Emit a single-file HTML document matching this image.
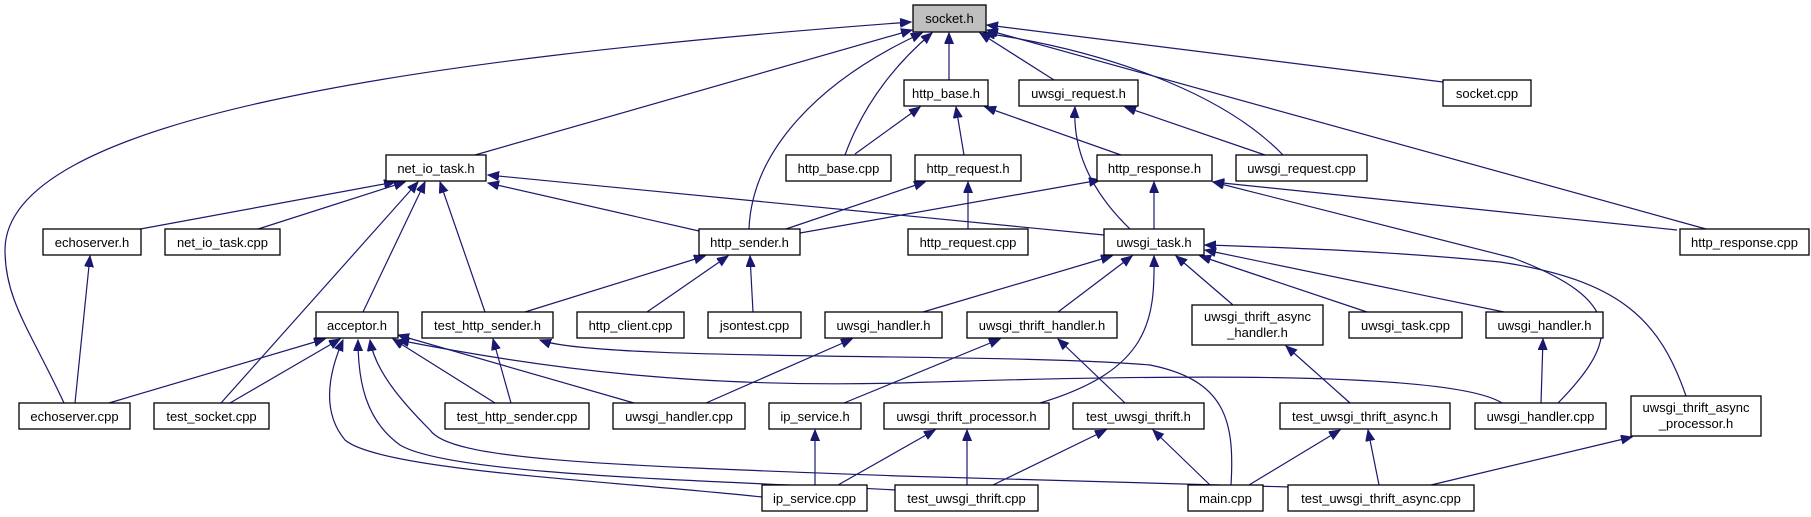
<!DOCTYPE html>
<html><head><meta charset="utf-8"><style>
html,body{margin:0;padding:0;background:#fff;}
svg{display:block;}
text{font-family:"Liberation Sans",sans-serif;font-size:13px;fill:#000;}
rect{fill:#fff;stroke:#000;stroke-width:1.3;}
.e{fill:none;stroke:#191970;stroke-width:1.2;marker-end:url(#a);}
</style></head><body>
<svg width="1811" height="517" viewBox="0 0 1811 517" xmlns="http://www.w3.org/2000/svg">
<defs><marker id="a" markerUnits="userSpaceOnUse" markerWidth="12" markerHeight="10" refX="11" refY="4.5" orient="auto"><path d="M0,0 L11,4.5 L0,9 z" fill="#191970" stroke="#191970"/></marker></defs>
<g>
<!-- socket.h -->
<path class="e" d="M64,403 C30,330 5,300 5,250 C5,120 400,60 911,22"/>
<path class="e" d="M475,155 L912,30"/>
<path class="e" d="M749,229 C752,150 820,80 922,33"/>
<path class="e" d="M845,155 C865,100 900,60 932,33"/>
<path class="e" d="M949,80 L949,33"/>
<path class="e" d="M1054,80 L980,33"/>
<path class="e" d="M1443,82 L987,25"/>
<path class="e" d="M1706,229 L987,30"/>
<path class="e" d="M1283,155 C1220,90 1100,50 984,33"/>
<!-- http_base.h -->
<path class="e" d="M855,154 L920,107"/>
<path class="e" d="M964,155 L956,107"/>
<path class="e" d="M1121,155 L985,107"/>
<!-- uwsgi_request.h -->
<path class="e" d="M1265,155 L1125,107"/>
<path class="e" d="M1130,229 C1100,200 1072,160 1075,107"/>
<!-- net_io_task.h -->
<path class="e" d="M135,230 L395,182"/>
<path class="e" d="M255,230 L405,182"/>
<path class="e" d="M221,403 L418,182"/>
<path class="e" d="M363,312 L425,182"/>
<path class="e" d="M485,312 L440,182"/>
<path class="e" d="M699,231 L488,183"/>
<path class="e" d="M1104,235 L488,175"/>
<!-- http_request.h -->
<path class="e" d="M783,230 L925,182"/>
<path class="e" d="M968,229 L968,182"/>
<!-- http_response.h -->
<path class="e" d="M800,233 L1100,180"/>
<path class="e" d="M1154,229 L1154,182"/>
<path class="e" d="M1677,230 L1213,182"/>
<path class="e" d="M1558,403 C1620,340 1625,300 1513,258 L1213,182"/>
<!-- http_sender.h -->
<path class="e" d="M525,312 L705,256"/>
<path class="e" d="M647,312 L728,256"/>
<path class="e" d="M753,312 L750,256"/>
<!-- uwsgi_task.h -->
<path class="e" d="M923,312 L1112,256"/>
<path class="e" d="M1058,312 L1132,256"/>
<path class="e" d="M1040,403 C1150,370 1155,320 1154,256"/>
<path class="e" d="M1233,305 L1176,256"/>
<path class="e" d="M1367,312 L1200,256"/>
<path class="e" d="M1504,312 L1205,250"/>
<path class="e" d="M1686,396 C1660,320 1620,280 1500,262 C1400,252 1300,248 1205,245"/>
<!-- echoserver.h -->
<path class="e" d="M75,403 L90,256"/>
<!-- acceptor.h -->
<path class="e" d="M109,403 L325,339"/>
<path class="e" d="M230,403 L340,339"/>
<path class="e" d="M495,403 L393,339"/>
<path class="e" d="M634,403 L398,335"/>
<path class="e" d="M1502,403 C1450,370 1150,375 900,383 C700,388 550,370 398,340"/>
<path class="e" d="M1290,487 L900,476 C600,465 450,460 430,430 C400,400 375,370 370,340"/>
<path class="e" d="M762,497 C600,480 380,470 345,440 C320,410 330,370 343,340"/>
<path class="e" d="M897,490 C700,480 450,475 400,445 C365,420 358,380 358,340"/>
<!-- test_http_sender.h -->
<path class="e" d="M511,403 L493,339"/>
<path class="e" d="M1231,485 C1235,420 1225,380 1150,365 C1000,352 600,362 540,340"/>
<!-- others -->
<path class="e" d="M706,403 L852,339"/>
<path class="e" d="M844,403 L1000,339"/>
<path class="e" d="M1125,403 L1058,339"/>
<path class="e" d="M1350,403 L1286,346"/>
<path class="e" d="M1541,403 L1543,339"/>
<path class="e" d="M815,485 L815,430"/>
<path class="e" d="M838,485 L935,430"/>
<path class="e" d="M967,485 L967,430"/>
<path class="e" d="M993,485 L1106,430"/>
<path class="e" d="M1210,485 L1153,430"/>
<path class="e" d="M1249,485 L1340,430"/>
<path class="e" d="M1379,485 L1368,430"/>
<path class="e" d="M1431,485 L1632,437"/>
</g>
<g text-anchor="middle">
<rect x="913" y="5" width="73" height="27" style="fill:#bfbfbf"/><text x="949.5" y="23">socket.h</text>
<rect x="904" y="80" width="84" height="26"/><text x="946" y="98">http_base.h</text>
<rect x="1019" y="80" width="119" height="26"/><text x="1078.5" y="98">uwsgi_request.h</text>
<rect x="1443" y="80" width="88" height="26"/><text x="1487" y="98">socket.cpp</text>
<rect x="386" y="155" width="100" height="26"/><text x="436" y="173">net_io_task.h</text>
<rect x="786" y="155" width="105" height="26"/><text x="838.5" y="173">http_base.cpp</text>
<rect x="915" y="155" width="106" height="26"/><text x="968" y="173">http_request.h</text>
<rect x="1097" y="155" width="115" height="26"/><text x="1154.5" y="173">http_response.h</text>
<rect x="1236" y="155" width="131" height="26"/><text x="1301.5" y="173">uwsgi_request.cpp</text>
<rect x="43" y="229" width="98" height="26"/><text x="92" y="247">echoserver.h</text>
<rect x="165" y="229" width="115" height="26"/><text x="222.5" y="247">net_io_task.cpp</text>
<rect x="699" y="229" width="101" height="26"/><text x="749.5" y="247">http_sender.h</text>
<rect x="908" y="229" width="120" height="26"/><text x="968" y="247">http_request.cpp</text>
<rect x="1104" y="229" width="100" height="26"/><text x="1154" y="247">uwsgi_task.h</text>
<rect x="1680" y="229" width="129" height="26"/><text x="1744.5" y="247">http_response.cpp</text>
<rect x="316" y="312" width="82" height="26"/><text x="357" y="330">acceptor.h</text>
<rect x="422" y="312" width="131" height="26"/><text x="487.5" y="330">test_http_sender.h</text>
<rect x="577" y="312" width="107" height="26"/><text x="630.5" y="330">http_client.cpp</text>
<rect x="708" y="312" width="93" height="26"/><text x="754.5" y="330">jsontest.cpp</text>
<rect x="825" y="312" width="117" height="26"/><text x="883.5" y="330">uwsgi_handler.h</text>
<rect x="967" y="312" width="150" height="26"/><text x="1042" y="330">uwsgi_thrift_handler.h</text>
<rect x="1192" y="305" width="131" height="40"/><text x="1257.5" y="321">uwsgi_thrift_async</text><text x="1257.5" y="337">_handler.h</text>
<rect x="1349" y="312" width="113" height="26"/><text x="1405.5" y="330">uwsgi_task.cpp</text>
<rect x="1486" y="312" width="117" height="26"/><text x="1544.5" y="330">uwsgi_handler.h</text>
<rect x="19" y="403" width="111" height="26"/><text x="74.5" y="421">echoserver.cpp</text>
<rect x="154" y="403" width="115" height="26"/><text x="211.5" y="421">test_socket.cpp</text>
<rect x="445" y="403" width="144" height="26"/><text x="517" y="421">test_http_sender.cpp</text>
<rect x="613" y="403" width="132" height="26"/><text x="679" y="421">uwsgi_handler.cpp</text>
<rect x="769" y="403" width="92" height="26"/><text x="815" y="421">ip_service.h</text>
<rect x="884" y="403" width="165" height="26"/><text x="966.5" y="421">uwsgi_thrift_processor.h</text>
<rect x="1073" y="403" width="131" height="26"/><text x="1138.5" y="421">test_uwsgi_thrift.h</text>
<rect x="1280" y="403" width="170" height="26"/><text x="1365" y="421">test_uwsgi_thrift_async.h</text>
<rect x="1475" y="403" width="131" height="26"/><text x="1540.5" y="421">uwsgi_handler.cpp</text>
<rect x="1631" y="396" width="130" height="40"/><text x="1696" y="412">uwsgi_thrift_async</text><text x="1696" y="428">_processor.h</text>
<rect x="762" y="485" width="105" height="26"/><text x="814.5" y="503">ip_service.cpp</text>
<rect x="895" y="485" width="143" height="26"/><text x="966.5" y="503">test_uwsgi_thrift.cpp</text>
<rect x="1188" y="485" width="75" height="26"/><text x="1225.5" y="503">main.cpp</text>
<rect x="1288" y="485" width="186" height="26"/><text x="1381" y="503">test_uwsgi_thrift_async.cpp</text>
</g>
</svg>
</body></html>
